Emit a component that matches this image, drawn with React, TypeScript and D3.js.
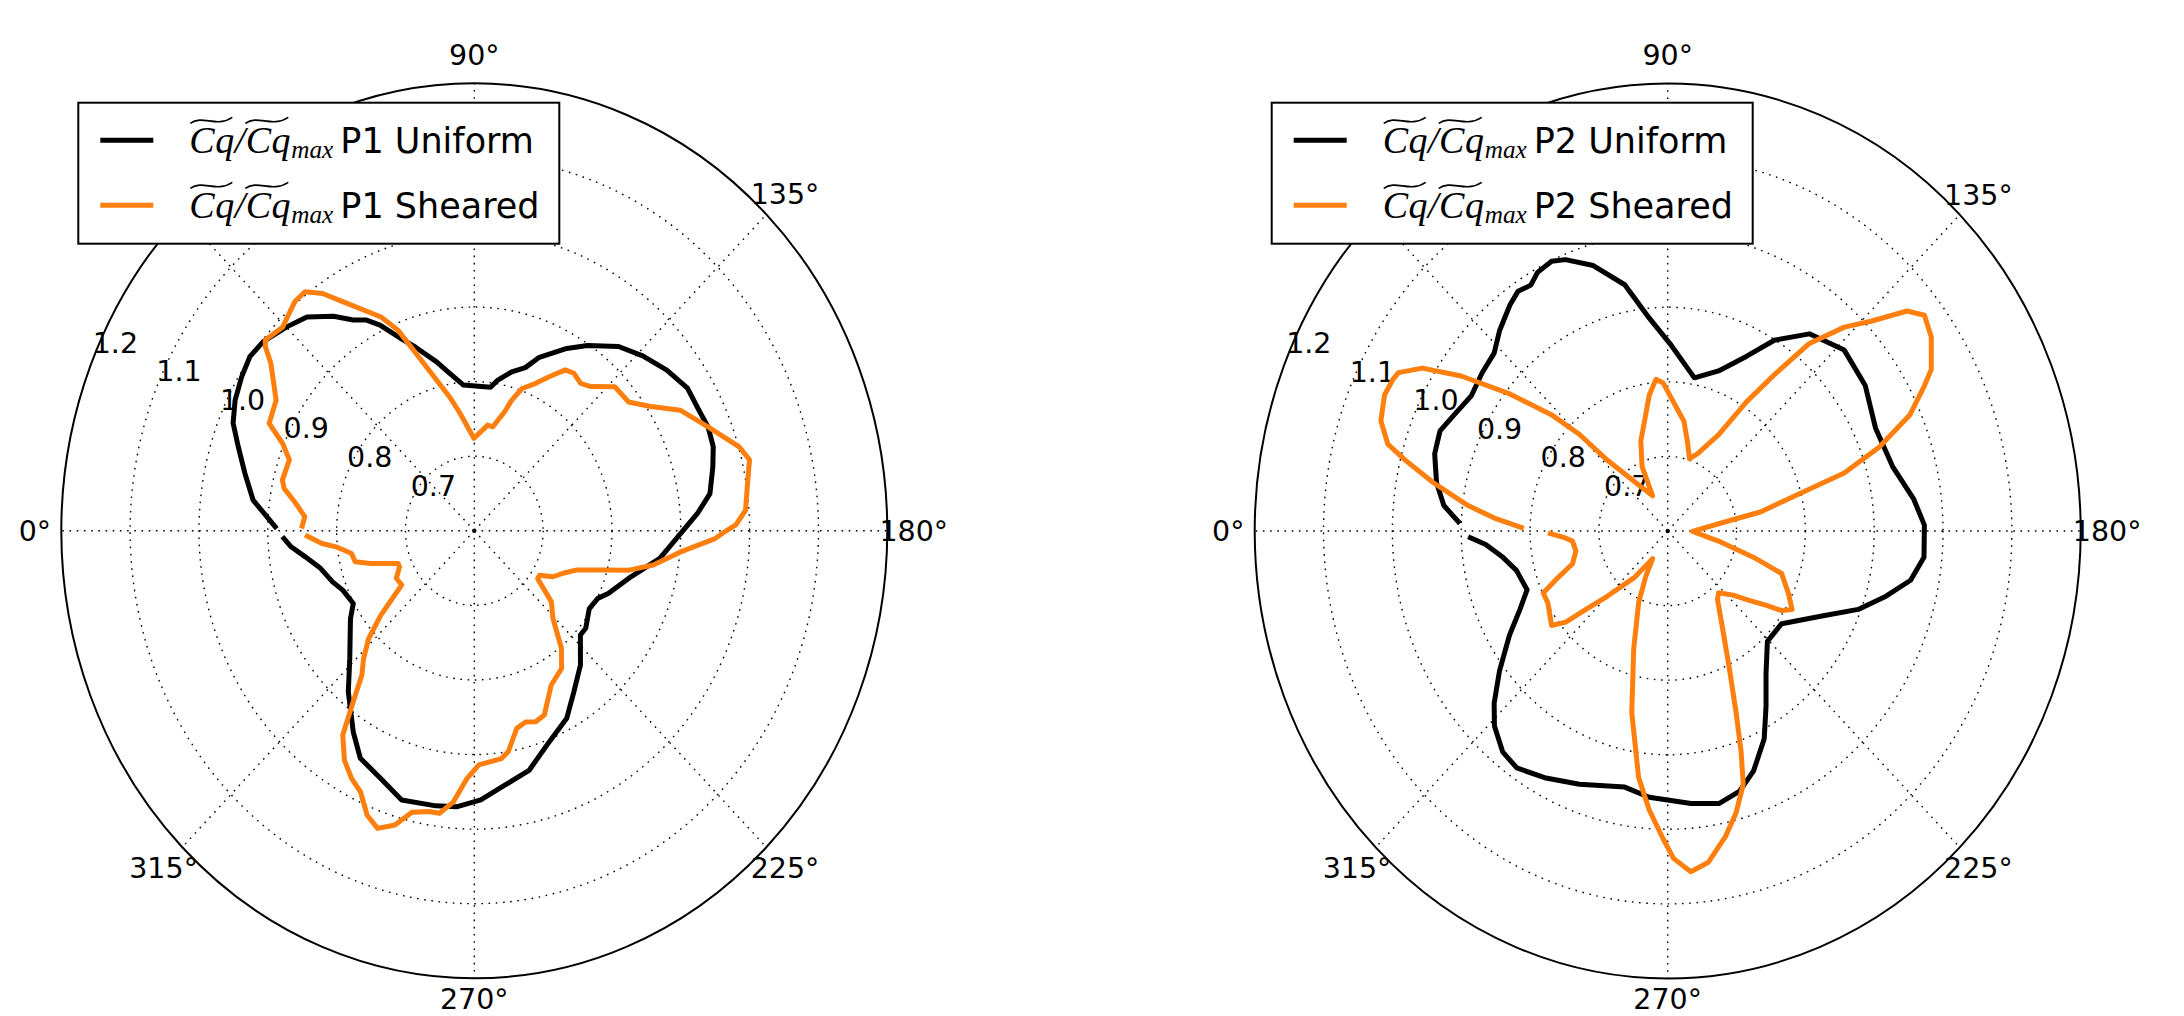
import React from "react";
import * as d3 from "d3";

const W = 2184;
const H = 1016;

// polar axes of the figure are slightly elliptical (non-square subplot)
const RX = 413;
const RY = 447.5;

const radialTicks = [0.7, 0.8, 0.9, 1.0, 1.1, 1.2];
const radialLabels = ["0.7", "0.8", "0.9", "1.0", "1.1", "1.2"];
const angleTicks = [0, 45, 90, 135, 180, 225, 270, 315];

// theta in degrees (0 = left, increasing clockwise), r = Cq/Cq_max
const p1UniformTheta = [0.6, 7.3, 13, 18.2, 22.4, 26.7, 31.4, 35.6, 39.6, 45.1, 49.7, 54.6, 58.1, 61, 63.6, 68, 70.8, 76.4, 80.4, 85.4, 97, 99.6, 104.3, 108.7, 112.1, 118.8, 123.5, 130.3, 136.2, 142.4, 148.3, 153.2, 157.7, 162, 166.1, 171.7, 175.9, 182, 187.8, 195.9, 203.4, 206.8, 212, 218.9, 222.2, 229.4, 236.2, 241.9, 248.9, 256.1, 262.6, 268.5, 274, 278.6, 286.3, 292.2, 298.5, 303.1, 310.3, 316.6, 326.8, 331, 337.4, 341.6, 347.3, 351.9, 355.4, 358.4];
const p1UniformR = [0.887, 0.924, 0.942, 0.961, 0.979, 0.989, 0.996, 1.001, 0.998, 0.986, 0.976, 0.953, 0.933, 0.923, 0.908, 0.876, 0.861, 0.833, 0.814, 0.796, 0.794, 0.805, 0.82, 0.831, 0.851, 0.879, 0.898, 0.924, 0.939, 0.953, 0.964, 0.964, 0.967, 0.965, 0.957, 0.946, 0.925, 0.894, 0.872, 0.833, 0.812, 0.801, 0.797, 0.808, 0.808, 0.837, 0.86, 0.885, 0.903, 0.931, 0.944, 0.961, 0.971, 0.973, 0.976, 0.959, 0.947, 0.922, 0.883, 0.849, 0.815, 0.801, 0.807, 0.817, 0.829, 0.848, 0.867, 0.879];

const p1ShearedTheta = [0.7, 4.4, 8.5, 11.6, 13.7, 19.5, 22.8, 25.8, 31.3, 37.2, 39.1, 40.1, 44.5, 46.6, 49.7, 52.5, 55.3, 58.1, 64.7, 67.6, 69.1, 73, 78.7, 82.5, 89.7, 94, 97.8, 100.9, 105.5, 107.2, 110, 114.3, 117.9, 121.5, 124.4, 128, 131.2, 136.6, 142.4, 146.7, 151.6, 157.7, 163.7, 166.6, 171.5, 176, 178.8, 180, 181.7, 185.4, 190, 193.2, 195.5, 199.4, 203.8, 208.3, 212.2, 214.8, 220.4, 225.8, 231.2, 235.5, 241.6, 247.6, 250.8, 253.8, 256.9, 260.5, 262.7, 268.8, 271.8, 274.8, 277.6, 279.9, 283.5, 286.3, 289.4, 292.2, 295.3, 298.2, 301.5, 304.9, 307.5, 310.2, 313.2, 316.7, 320.2, 324.3, 325.5, 330.6, 336, 338.4, 343.8, 346.5, 350.3, 353.9, 355.6, 358.7];
const p1ShearedR = [0.851, 0.847, 0.864, 0.882, 0.887, 0.885, 0.902, 0.931, 0.937, 0.971, 0.991, 0.997, 0.99, 0.995, 1.003, 1.004, 0.987, 0.962, 0.917, 0.891, 0.869, 0.825, 0.783, 0.759, 0.724, 0.733, 0.743, 0.742, 0.766, 0.783, 0.803, 0.817, 0.834, 0.853, 0.856, 0.851, 0.857, 0.881, 0.883, 0.904, 0.94, 0.967, 1.001, 1.011, 1.001, 0.995, 0.98, 0.966, 0.95, 0.901, 0.864, 0.831, 0.797, 0.758, 0.741, 0.73, 0.712, 0.712, 0.747, 0.764, 0.802, 0.824, 0.835, 0.867, 0.871, 0.867, 0.872, 0.9, 0.908, 0.914, 0.932, 0.965, 0.982, 0.982, 0.988, 1.011, 1.023, 1.012, 0.987, 0.977, 0.961, 0.934, 0.889, 0.853, 0.835, 0.811, 0.777, 0.736, 0.728, 0.73, 0.719, 0.719, 0.757, 0.778, 0.781, 0.802, 0.822, 0.846];

const p2UniformTheta = [1.9, 6, 10.9, 17, 22.1, 26.7, 32.5, 38.2, 43.4, 47.7, 52.9, 55.9, 58.9, 61.4, 65, 67.8, 73.1, 79.3, 84.6, 90.8, 100.7, 109, 116.1, 121.2, 127.9, 136.6, 145.8, 155.4, 165.2, 173.2, 178.8, 185.4, 190.6, 195.4, 200.8, 206.7, 216.9, 225.6, 233.3, 238.7, 243.3, 248.8, 253.3, 258.5, 264.7, 274.3, 280.3, 290.7, 298.4, 304.6, 309, 313.9, 317.5, 322.5, 328.7, 333.9, 338.9, 346.5, 351.6, 356.1, 358.5];
const p2UniformR = [0.902, 0.927, 0.942, 0.954, 0.957, 0.947, 0.938, 0.943, 0.947, 0.963, 0.98, 0.988, 0.985, 0.995, 0.999, 0.993, 0.972, 0.936, 0.887, 0.851, 0.809, 0.827, 0.861, 0.899, 0.935, 0.953, 0.947, 0.932, 0.938, 0.96, 0.973, 0.974, 0.959, 0.929, 0.896, 0.853, 0.807, 0.807, 0.839, 0.875, 0.912, 0.945, 0.964, 0.973, 0.967, 0.958, 0.949, 0.963, 0.976, 0.986, 0.981, 0.963, 0.942, 0.908, 0.869, 0.839, 0.819, 0.826, 0.842, 0.865, 0.89];

const p2ShearedTheta = [1, 3.8, 6.7, 10.8, 14, 16, 19.5, 23.9, 27, 28.5, 31.5, 34.7, 38.7, 42.7, 45.3, 47.3, 52.8, 65, 66.7, 72.1, 78.4, 81.6, 85.2, 88, 92.8, 99.1, 103.3, 108.1, 112.9, 119.8, 123.5, 126.5, 129.3, 133.2, 136.5, 139.7, 142.2, 145.8, 150.5, 152.4, 156.1, 159.9, 163.1, 165.2, 169.3, 171.6, 181, 190.4, 195.8, 199, 205.4, 210.2, 212.8, 214.7, 218.7, 222.2, 228.3, 231.8, 238, 244, 247.8, 250.2, 252.1, 255.3, 258.4, 262.4, 265.8, 268.9, 270.9, 274.1, 277.3, 282.1, 287.4, 293.7, 297.6, 300.6, 307.6, 315.1, 318.4, 320.5, 323.1, 331, 335.3, 338, 342.4, 348.7, 354.4, 356.4, 359.2];
const p2ShearedR = [0.809, 0.85, 0.892, 0.947, 0.993, 1.023, 1.042, 1.05, 1.048, 1.045, 1.018, 0.965, 0.894, 0.83, 0.782, 0.729, 0.687, 0.652, 0.694, 0.727, 0.759, 0.784, 0.804, 0.799, 0.773, 0.749, 0.724, 0.702, 0.713, 0.749, 0.808, 0.861, 0.925, 0.975, 1.009, 1.056, 1.072, 1.063, 1.04, 1.021, 0.985, 0.927, 0.868, 0.802, 0.737, 0.685, 0.636, 0.675, 0.73, 0.775, 0.794, 0.809, 0.797, 0.776, 0.747, 0.728, 0.711, 0.717, 0.749, 0.804, 0.863, 0.915, 0.957, 0.991, 1.018, 1.048, 1.058, 1.039, 1.013, 0.975, 0.933, 0.849, 0.765, 0.705, 0.669, 0.643, 0.678, 0.724, 0.758, 0.792, 0.811, 0.799, 0.799, 0.776, 0.745, 0.736, 0.739, 0.749, 0.774];

const BLACK = "#000000";
const ORANGE = "#ff7f0e";
const TICK_FS = 28.5;
const LEG_FS = 35;

const rScale = d3.scaleLinear().domain([0.6, 1.2]).range([0, 1]);
const rad = (deg: number) => (deg * Math.PI) / 180;

type Series = { theta: number[]; r: number[]; color: string; name: string };

const Tilde = ({ x, y, w }: { x: number; y: number; w: number }) => (
  <path
    d={`M${x},${y + 3} C${x + w * 0.3},${y - 6} ${x + w * 0.62},${y + 8} ${x + w},${y - 3}`}
    fill="none"
    stroke="#000"
    strokeWidth={1.6}
  />
);

// ~Cq / ~Cq_max : one italic run, subscript as its own text, tildes drawn
const MathLabel = ({ x, y }: { x: number; y: number }) => {
  const f = "'Liberation Serif', 'DejaVu Serif', serif";
  return (
    <g fill="#000" fontFamily={f} fontStyle="italic">
      <text x={x} y={y} fontSize={38} letterSpacing={0.5}>
        Cq/Cq
      </text>
      <text x={x + 102} y={y + 5} fontSize={26} textLength={42} lengthAdjust="spacingAndGlyphs">
        max
      </text>
      <Tilde x={x + 1} y={y - 33} w={42} />
      <Tilde x={x + 56} y={y - 33} w={43} />
    </g>
  );
};

const PolarPanel = ({ cx, cy, tag, series }: { cx: number; cy: number; tag: string; series: Series[] }) => {
  const px = (t: number, v: number) => cx - RX * rScale(v) * Math.cos(rad(t));
  const py = (t: number, v: number) => cy - RY * rScale(v) * Math.sin(rad(t));

  const line = d3
    .line<[number, number]>()
    .x((d) => px(d[0], d[1]))
    .y((d) => py(d[0], d[1]))
    .curve(d3.curveLinear);

  const rMax = radialTicks[radialTicks.length - 1];
  const legX = cx - 396;
  const legY = 102.7;

  return (
    <g>
      {/* grid rings */}
      {radialTicks.slice(0, -1).map((t) => (
        <ellipse
          key={`ring-${t}`}
          cx={cx}
          cy={cy}
          rx={RX * rScale(t)}
          ry={RY * rScale(t)}
          fill="none"
          stroke="#000"
          strokeWidth={1.4}
          strokeDasharray="1.6 5.6"
        />
      ))}
      {/* spokes */}
      {angleTicks.map((a) => (
        <line
          key={`spoke-${a}`}
          x1={cx}
          y1={cy}
          x2={px(a, rMax)}
          y2={py(a, rMax)}
          stroke="#000"
          strokeWidth={1.4}
          strokeDasharray="1.6 5.6"
        />
      ))}
      <circle cx={cx} cy={cy} r={2.2} fill="#000" />
      {/* outer frame */}
      <ellipse cx={cx} cy={cy} rx={RX} ry={RY} fill="none" stroke="#000" strokeWidth={2} />

      {/* radial labels at 22.5 deg */}
      {radialTicks.map((t, i) => (
        <text
          key={`rl-${t}`}
          x={px(22.5, t)}
          y={py(22.5, t) - 0.236 * TICK_FS}
          fontSize={TICK_FS}
          fontFamily="'DejaVu Sans', sans-serif"
          fill="#000"
        >
          {radialLabels[i]}
        </text>
      ))}

      {/* angle labels */}
      {angleTicks.map((a) => (
        <text
          key={`al-${a}`}
          x={cx - RX * 1.064 * Math.cos(rad(a))}
          y={Math.min(cy - RY * 1.064 * Math.sin(rad(a)) + 0.36 * TICK_FS, H - 7)}
          textAnchor="middle"
          fontSize={TICK_FS}
          fontFamily="'DejaVu Sans', sans-serif"
          fill="#000"
        >
          {`${a}°`}
        </text>
      ))}

      {/* data */}
      {series.map((s) => (
        <path
          key={s.name}
          d={line(s.theta.map((t, i) => [t, s.r[i]] as [number, number])) || ""}
          fill="none"
          stroke={s.color}
          strokeWidth={5}
          strokeLinejoin="round"
        />
      ))}

      {/* legend */}
      <rect x={legX} y={legY} width={481} height={141} fill="#fff" stroke="#000" strokeWidth={2} />
      {series.map((s, i) => {
        const by = 153.3 + i * 65;
        return (
          <g key={`leg-${s.name}`}>
            <line x1={legX + 22} x2={legX + 75} y1={by - 13} y2={by - 13} stroke={s.color} strokeWidth={5} />
            <MathLabel x={legX + 111} y={by} />
            <text x={legX + 262} y={by} fontSize={LEG_FS} fontFamily="'DejaVu Sans', sans-serif" fill="#000">
              {`${tag} ${s.name}`}
            </text>
          </g>
        );
      })}
    </g>
  );
};

export default function App() {
  const left: Series[] = [
    { theta: p1UniformTheta, r: p1UniformR, color: BLACK, name: "Uniform" },
    { theta: p1ShearedTheta, r: p1ShearedR, color: ORANGE, name: "Sheared" },
  ];
  const right: Series[] = [
    { theta: p2UniformTheta, r: p2UniformR, color: BLACK, name: "Uniform" },
    { theta: p2ShearedTheta, r: p2ShearedR, color: ORANGE, name: "Sheared" },
  ];
  return (
    <svg
      width={W}
      height={H}
      viewBox={`0 0 ${W} ${H}`}
      style={{ position: "absolute", left: 0, top: 0, background: "#fff" }}
    >
      <rect width={W} height={H} fill="#fff" />
      <PolarPanel cx={474.3} cy={530.8} tag="P1" series={left} />
      <PolarPanel cx={1667.7} cy={531} tag="P2" series={right} />
    </svg>
  );
}
